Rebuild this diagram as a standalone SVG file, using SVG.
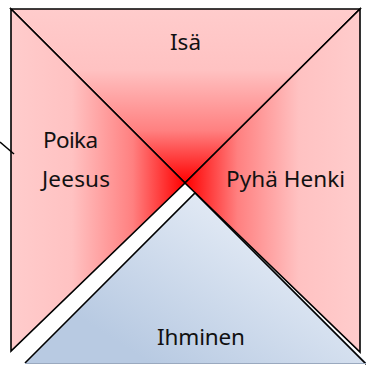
<svg xmlns="http://www.w3.org/2000/svg" width="366" height="365" viewBox="0 0 366 365">
  <defs>
    <linearGradient id="gTop" gradientUnits="userSpaceOnUse" x1="0" y1="9" x2="0" y2="183">
      <stop offset="0" stop-color="#ffcccc"/>
      <stop offset="0.35" stop-color="#ffc2c2"/>
      <stop offset="0.7" stop-color="#ff8080"/>
      <stop offset="1" stop-color="#ff0000"/>
    </linearGradient>
    <linearGradient id="gLeft" gradientUnits="userSpaceOnUse" x1="11" y1="0" x2="185" y2="0">
      <stop offset="0" stop-color="#ffcccc"/>
      <stop offset="0.35" stop-color="#ffc2c2"/>
      <stop offset="0.7" stop-color="#ff8080"/>
      <stop offset="1" stop-color="#ff0000"/>
    </linearGradient>
    <linearGradient id="gRight" gradientUnits="userSpaceOnUse" x1="360" y1="0" x2="185" y2="0">
      <stop offset="0" stop-color="#ffcccc"/>
      <stop offset="0.35" stop-color="#ffc2c2"/>
      <stop offset="0.7" stop-color="#ff8080"/>
      <stop offset="1" stop-color="#ff0000"/>
    </linearGradient>
    <linearGradient id="gBlue" gradientUnits="userSpaceOnUse" x1="260" y1="193" x2="150" y2="363">
      <stop offset="0" stop-color="#e9eff8"/>
      <stop offset="1" stop-color="#b8cae2"/>
    </linearGradient>
    <style>
      .tri { stroke: #000; stroke-width: 1.6; stroke-linejoin: miter; }
      .lbl { font-family: "Noto Sans", "Liberation Sans", sans-serif; font-size: 22.5px; fill: #111; }
    </style>
  </defs>
  <rect width="366" height="365" fill="#fff"/>
  <g id="isa">
    <polygon class="tri" points="11,9 360,9 185,183" fill="url(#gTop)"/>
    <text class="lbl" x="185.5" y="50" text-anchor="middle">Isä</text>
  </g>
  <g id="poika">
    <polygon class="tri" points="11,9 185,183 11,351" fill="url(#gLeft)"/>
    <text class="lbl" x="43" y="148" textLength="55">Poika</text>
    <text class="lbl" x="42" y="187" textLength="68">Jeesus</text>
  </g>
  <g id="pyha-henki">
    <polygon class="tri" points="360,9 360,352 185,183" fill="url(#gRight)"/>
    <text class="lbl" x="226" y="187" textLength="119">Pyhä Henki</text>
  </g>
  <g id="ihminen">
    <polygon points="195,193 25,363 367,363" fill="url(#gBlue)"/>
    <polyline class="tri" points="25,363 195,193 367,365" fill="none"/>
    <line x1="25" y1="363.5" x2="366" y2="363.5" stroke="#9aa9bf" stroke-width="1.2"/>
    <text class="lbl" x="157" y="345" textLength="88">Ihminen</text>
  </g>
  <g id="connectors">
    <line x1="0" y1="142" x2="14" y2="154" stroke="#000" stroke-width="1.5"/>
  </g>
</svg>
